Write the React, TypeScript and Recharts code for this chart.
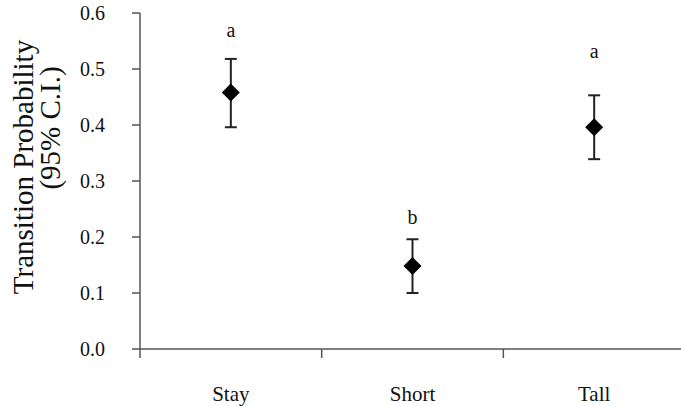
import React from "react";
import { ScatterChart, Scatter, XAxis, YAxis, ErrorBar } from "recharts";

const categories = ["Stay", "Short", "Tall"];
const means = [0.458, 0.148, 0.396];
const lowerCI = [0.396, 0.1, 0.339];
const upperCI = [0.518, 0.196, 0.453];
const groupLetters = ["a", "b", "a"];
const letterHeights = [0.558, 0.223, 0.519];
const yTicks = [0, 0.1, 0.2, 0.3, 0.4, 0.5, 0.6];
const xTicks = [0, 0.5, 1, 1.5, 2, 2.5, 3];

const data = categories.map((c, i) => ({
  pos: i + 0.5,
  name: c,
  mean: means[i],
  err: [means[i] - lowerCI[i], upperCI[i] - means[i]],
  letter: groupLetters[i],
  letterY: letterHeights[i],
}));

const FONT = "Liberation Serif, Times New Roman, serif";
const AXIS = "#555";

const Diamond = (props: any) => {
  const { cx, cy } = props;
  if (cx == null || cy == null) return null;
  const r = 9;
  return (
    <polygon
      points={`${cx},${cy - r} ${cx + r},${cy} ${cx},${cy + r} ${cx - r},${cy}`}
      fill="#000"
    />
  );
};

const LetterShape = (props: any) => {
  const { cx, cy, payload } = props;
  if (cx == null || cy == null) return null;
  return (
    <text x={cx} y={cy} textAnchor="middle" style={{ fontFamily: FONT }} fontSize={20} fill="#111">
      {payload.letter}
    </text>
  );
};

const XTick = (props: any) => {
  const { x, y, payload } = props;
  const v = payload.value;
  if (Number.isInteger(v)) {
    return <line x1={x} y1={y} x2={x} y2={y + 9} stroke={AXIS} strokeWidth={1.5} />;
  }
  const idx = Math.floor(v);
  return (
    <text x={x} y={y + 52} textAnchor="middle" style={{ fontFamily: FONT }} fontSize={21} fill="#111">
      {categories[idx]}
    </text>
  );
};

const YTick = (props: any) => {
  const { x, y, payload } = props;
  return (
    <text
      x={x}
      y={y + 7}
      textAnchor="end"
      style={{ fontFamily: FONT }}
      fontSize={20}
      fill="#111"
    >
      {Number(payload.value).toFixed(1)}
    </text>
  );
};

const YLabel = () => (
  <g>
    <text
      x={33}
      y={167}
      transform="rotate(-90, 33, 167)"
      textAnchor="middle"
      style={{ fontFamily: FONT }}
      fontSize={29}
      fill="#111"
    >
      Transition Probability
    </text>
    <text
      x={60}
      y={128}
      transform="rotate(-90, 60, 128)"
      textAnchor="middle"
      style={{ fontFamily: FONT }}
      fontSize={29}
      fill="#111"
    >
      (95% C.I.)
    </text>
  </g>
);

export default function App() {
  return (
    <div
      style={{
        position: "absolute",
        left: 0,
        top: 0,
        width: 681,
        height: 406,
        overflow: "hidden",
        background: "#fff",
        fontFamily: FONT,
      }}
    >
      <ScatterChart
        width={700}
        height={406}
        margin={{ top: 13, right: 15, bottom: 0, left: 0 }}
        style={{ fontFamily: FONT }}
      >
        <XAxis
          type="number"
          dataKey="pos"
          domain={[0, 3]}
          ticks={xTicks}
          interval={0}
          tickSize={0}
          tickMargin={0}
          tickLine={false}
          tick={<XTick />}
          axisLine={{ stroke: AXIS, strokeWidth: 1.5 }}
          height={57}
          allowDecimals
        />
        <YAxis
          type="number"
          domain={[0, 0.6]}
          ticks={yTicks}
          interval={0}
          width={140}
          tickSize={8}
          tickMargin={27}
          tick={<YTick />}
          tickLine={{ stroke: AXIS, strokeWidth: 1.5 }}
          axisLine={{ stroke: AXIS, strokeWidth: 1.5 }}
          label={{ content: () => <YLabel /> }}
        />
        <Scatter
          data={data}
          dataKey="mean"
          shape={<Diamond />}
          isAnimationActive={false}
        >
          <ErrorBar
            dataKey="err"
            direction="y"
            width={6}
            stroke="#222"
            strokeWidth={2}
            isAnimationActive={false}
          />
        </Scatter>
        <Scatter
          data={data}
          dataKey="letterY"
          shape={<LetterShape />}
          isAnimationActive={false}
        />
      </ScatterChart>
    </div>
  );
}
